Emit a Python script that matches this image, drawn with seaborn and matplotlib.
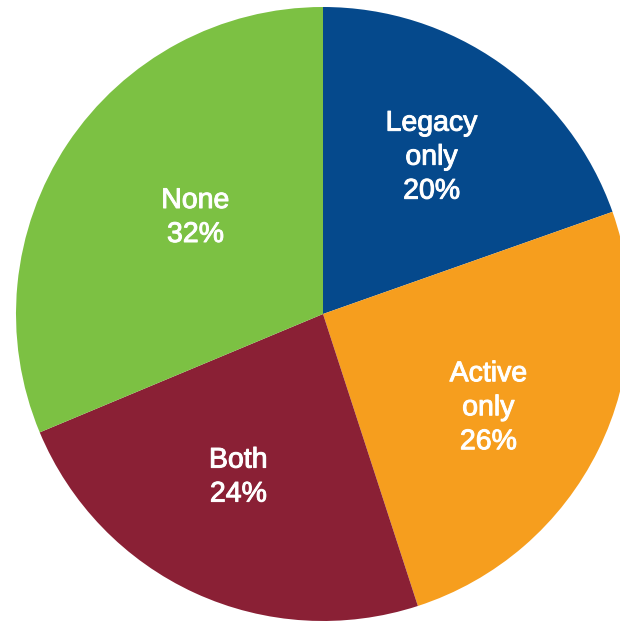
import seaborn as sns
import matplotlib.pyplot as plt
import matplotlib.patheffects as pe
import numpy as np

sns.set_theme(style="white")
plt.rcParams['font.family'] = ['Liberation Sans', 'DejaVu Sans']

# slice sizes (labels are the rounded published values)
groups = ["Legacy\nonly", "Active\nonly", "Both", "None"]
shares = [19.6, 25.4, 23.7, 31.3]
pct_labels = ["20%", "26%", "24%", "32%"]
colors = ["#05498C", "#F69E1E", "#8A2035", "#7CC143"]

fig = plt.figure(figsize=(6.2, 6.24), dpi=100)
ax = fig.add_axes([0, 0, 1, 1])

labels = [f"{g}\n{p}" for g, p in zip(groups, pct_labels)]
wedges, texts = ax.pie(shares, colors=colors, startangle=90, counterclock=False,
                       labels=labels, labeldistance=0.6,
                       wedgeprops=dict(linewidth=0),
                       textprops=dict(color="white", fontsize=20.5))

# place each label near its wedge's middle angle
dists = [0.62, 0.62, 0.60, 0.52]
shifts = [0.5, -3.4, -2.7, -3.3]
for w, t, d, s in zip(wedges, texts, dists, shifts):
    ang = np.deg2rad((w.theta1 + w.theta2) / 2 + s)
    t.set_position((d * np.cos(ang), d * np.sin(ang)))
    t.set_ha("center")
    t.set_va("center")
    t.set_linespacing(1.4)
    # a touch heavier, like the medium-weight face in the original
    t.set_path_effects([pe.withStroke(linewidth=0.7, foreground="white")])

r = 307
ax.set_xlim(-323 / r, (620 - 323) / r)
ax.set_ylim(-310 / r, (624 - 310) / r)
ax.set_aspect("equal")
ax.axis("off")

fig.savefig("out.png", dpi=100)
